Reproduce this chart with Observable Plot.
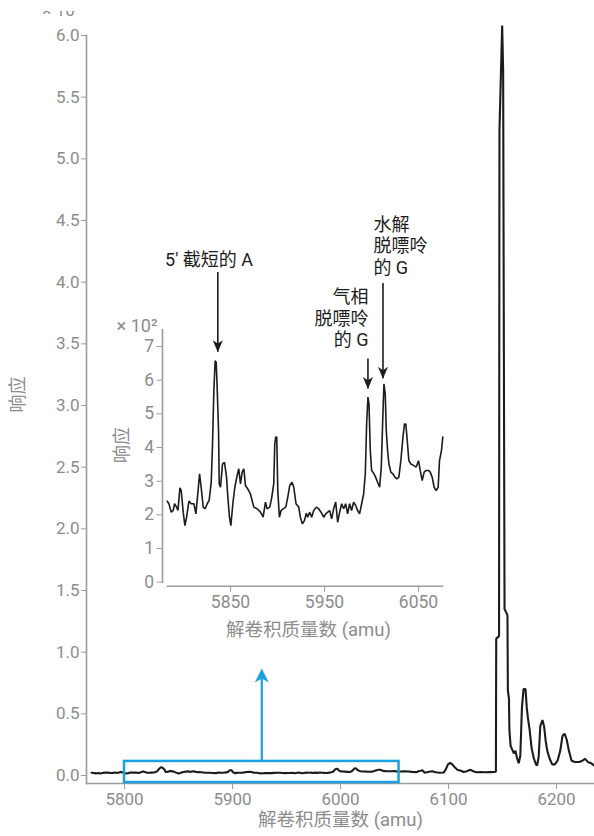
<!DOCTYPE html>
<html>
<head>
<meta charset="utf-8">
<script src="https://cdn.jsdelivr.net/npm/d3@7"></script>
<script src="https://cdn.jsdelivr.net/npm/@observablehq/plot@0.6"></script>
<style>
  html, body { margin: 0; padding: 0; background: #fff; }
  #chart { position: relative; width: 594px; height: 836px; overflow: hidden;
           font-family: Roboto, "Noto Sans CJK SC", sans-serif; }
  #chart svg { display: block; }
  #inset { position: absolute; left: 100px; top: 200px; }
  #exp4 { position: absolute; left: 0; top: 11px; width: 86px; height: 6px; overflow: hidden; }
  #exp4 span { position: absolute; right: 5px; top: -9.5px; font-size: 17px; line-height: 17px;
               color: #8c8c8c; white-space: nowrap; }
</style>
</head>
<body>
<div id="chart">
  <div id="main"></div>
  <div id="inset"></div>
  <div id="exp4"><span>× 10⁴</span></div>
</div>
<script>
// ---- deconvoluted spectrum: region left of the zoomed window (response ×10⁴)
const leadMass = [5769.5, 5771.5, 5773.5, 5775.5, 5777.5, 5780];
const leadResp = [0.022, 0.020, 0.017, 0.021, 0.016, 0.021];

// ---- zoomed window 5783–6076 amu (response ×10²)
const zoomMass = [
  5782.7, 5784.5, 5787.0, 5789.1, 5790.5, 5792.7, 5794.1, 5796.2, 5797.6, 5799.7,
  5801.5, 5803.3, 5805.8, 5808.2, 5811.1, 5813.2, 5815.7, 5817.1, 5818.8, 5821.0,
  5823.1, 5825.2, 5827.3, 5829.5, 5830.9, 5832.3, 5833.7, 5834.8, 5835.8, 5837.3,
  5838.0, 5839.4, 5841.5, 5843.6, 5845.8, 5847.2, 5848.9, 5850.4, 5852.5, 5854.6,
  5857.1, 5858.8, 5860.6, 5862.4, 5864.2, 5865.9, 5868.4, 5871.2, 5874.8, 5878.3,
  5881.9, 5884.7, 5887.2, 5888.9, 5891.8, 5893.9, 5896.0, 5897.1, 5898.1, 5899.2,
  5900.3, 5902.0, 5903.8, 5905.9, 5908.8, 5910.9, 5913.0, 5915.5, 5917.3, 5919.7,
  5922.6, 5924.3, 5926.5, 5928.6, 5930.7, 5932.1, 5934.2, 5936.4, 5938.5, 5941.3,
  5943.8, 5946.3, 5949.1, 5951.2, 5953.4, 5955.5, 5957.6, 5959.7, 5961.9, 5964.0,
  5966.1, 5968.2, 5970.4, 5972.5, 5974.6, 5976.7, 5978.8, 5981.0, 5983.1, 5985.2,
  5987.3, 5989.5, 5991.6, 5993.4, 5994.8, 5996.2, 5997.3, 5998.7, 6000.1, 6002.2,
  6004.3, 6006.5, 6008.6, 6010.4, 6011.8, 6013.2, 6014.6, 6015.7, 6017.1, 6018.5,
  6020.6, 6022.7, 6024.9, 6027.0, 6029.1, 6031.2, 6033.4, 6035.1, 6036.5, 6038.0,
  6039.7, 6041.9, 6044.7, 6047.5, 6050.0, 6051.8, 6053.9, 6056.0, 6058.1, 6060.6,
  6062.4, 6064.5, 6066.6, 6068.8, 6070.9, 6072.3, 6074.4, 6075.8
];
const zoomResp = [
  2.41, 2.33, 2.08, 2.13, 2.33, 2.23, 2.13, 2.80, 2.72, 2.08,
  1.68, 1.93, 2.41, 2.33, 2.33, 2.03, 2.77, 3.22, 2.82, 2.23,
  2.18, 2.33, 2.43, 2.97, 4.11, 5.69, 6.58, 6.53, 5.79, 4.50,
  2.92, 2.82, 3.51, 3.56, 3.12, 2.52, 1.93, 1.68, 2.33, 2.82,
  3.17, 3.37, 2.92, 3.27, 3.37, 2.87, 2.77, 2.62, 2.23, 2.18,
  2.08, 1.93, 2.38, 2.18, 2.23, 2.52, 2.92, 4.11, 4.31, 4.31,
  2.72, 1.93, 2.13, 2.18, 2.23, 2.52, 2.87, 2.97, 2.82, 2.33,
  2.23, 1.93, 1.73, 1.83, 2.05, 1.93, 2.08, 1.93, 2.13, 2.23,
  2.18, 2.08, 1.93, 2.03, 2.08, 2.13, 1.88, 2.18, 2.38, 1.78,
  2.08, 2.33, 2.18, 2.33, 2.03, 2.33, 2.13, 2.38, 2.28, 2.13,
  2.03, 2.33, 2.62, 3.22, 4.70, 5.50, 5.30, 3.91, 3.32, 3.24,
  3.12, 2.97, 2.82, 3.42, 4.70, 5.89, 5.59, 4.50, 3.91, 3.51,
  3.27, 3.22, 3.12, 3.07, 3.12, 3.61, 4.31, 4.70, 4.70, 4.21,
  3.61, 3.51, 3.47, 3.42, 3.61, 3.32, 3.02, 3.27, 3.32, 3.32,
  3.27, 3.12, 2.82, 2.72, 2.82, 3.61, 3.91, 4.31
];

// ---- region right of the zoomed window, including the main 6148 amu peak (response ×10⁴)
const tailMass = [
  6078, 6082, 6085, 6088, 6092, 6095.5, 6097.5, 6099.5, 6101.5, 6103.5,
  6106, 6108.5, 6111, 6114, 6117, 6120, 6123, 6126, 6130, 6134,
  6138, 6142, 6143.9, 6144.2, 6146.8, 6147.2, 6149.7, 6150.6, 6151.9, 6154.6,
  6155.0, 6156.0, 6156.4, 6157.5, 6159, 6160.5, 6162, 6163.5, 6165, 6166.5,
  6168, 6169.5, 6171.3, 6172.5, 6173.5, 6175, 6177, 6179, 6181, 6182,
  6183.5, 6185, 6187, 6188.5, 6190, 6191.5, 6193.5, 6196, 6198.5, 6201,
  6203.5, 6205.5, 6207.5, 6209.5, 6211.5, 6214, 6217, 6221, 6224, 6226.5,
  6229, 6232, 6235
];
const tailResp = [
  0.022, 0.030, 0.035, 0.026, 0.022, 0.024, 0.050, 0.090, 0.103, 0.090,
  0.065, 0.045, 0.040, 0.028, 0.035, 0.046, 0.035, 0.026, 0.028, 0.026,
  0.027, 0.028, 0.030, 1.11, 1.13, 5.23, 6.08, 5.72, 1.35, 1.30,
  0.69, 0.62, 0.37, 0.24, 0.21, 0.18, 0.20, 0.14, 0.10, 0.16,
  0.55, 0.70, 0.70, 0.55, 0.47, 0.38, 0.22, 0.14, 0.09, 0.08,
  0.15, 0.40, 0.45, 0.40, 0.28, 0.20, 0.14, 0.09, 0.09, 0.12,
  0.20, 0.32, 0.34, 0.29, 0.20, 0.12, 0.11, 0.11, 0.12, 0.135,
  0.11, 0.10, 0.08
];

// ---- axis ticks
const mainXTicks = [5800, 5900, 6000, 6100, 6200];
const mainYTicks = [0, 0.5, 1, 1.5, 2, 2.5, 3, 3.5, 4, 4.5, 5, 5.5, 6];
const zoomXTicks = [5850, 5950, 6050];
const zoomYTicks = [0, 1, 2, 3, 4, 5, 6, 7];

// ---- zoomed window marker on the full spectrum
const windowMass = [5800, 6054.2];
const windowResp = [-0.057, 0.114];
const windowPointer = 0.868;

// ---- peak annotations inside the zoomed view (mass, arrow start/end in ×10²)
const peakLabels = ["5' 截短的 A", "气相\n脱嘌呤\n的 G", "水解\n脱嘌呤\n的 G"];
const peakLabelMass = [5827.2, 5996.9, 6002.0];
const peakLabelResp = [9.55, 7.86, 10.0];
const peakArrowMass = [5836.5, 5996.2, 6012.2];
const peakArrowFrom = [9.2, 6.63, 8.87];
const peakArrowTo = [6.83, 5.74, 6.04];

const xLabel = "解卷积质量数 (amu)";
const yLabel = "响应";

const FONT = 'Roboto, "Noto Sans CJK SC", sans-serif';
const GREY = "#8c8c8c";
const AXIS = "#9c9c9c";
const INK = "#1c1c1c";
const BLUE = "#1aa1e0";

// notched arrowhead symbol; tip at the anchor point, dir 1 = pointing down, -1 = up
function arrowHead(dir, spread) {
  return {
    draw(ctx, size) {
      const r = Math.sqrt(size / Math.PI);
      const len = 2 * r, half = spread * len;
      ctx.moveTo(0, 0);
      ctx.lineTo(-half, -dir * len);
      ctx.lineTo(0, -dir * len * 0.72);
      ctx.lineTo(half, -dir * len);
      ctx.closePath();
    }
  };
}

const spectrum = [
  ...leadMass.map((m, i) => ({mass: m, resp: leadResp[i]})),
  ...zoomMass.map((m, i) => ({mass: m, resp: zoomResp[i] / 100})),
  ...tailMass.map((m, i) => ({mass: m, resp: tailResp[i]}))
];
const zoomed = zoomMass.map((m, i) => ({mass: m, resp: zoomResp[i]}));
const arrows = peakArrowMass.map((m, i) => ({mass: m, from: peakArrowFrom[i], to: peakArrowTo[i]}));

const mainPlot = Plot.plot({
  width: 594,
  height: 836,
  marginLeft: 86,
  marginRight: 0,
  marginTop: 35,
  marginBottom: 53,
  style: {fontFamily: FONT, color: GREY, background: "transparent", overflow: "visible"},
  x: {domain: [5764.8, 6235.2]},
  y: {domain: [0, 6], insetBottom: 8},
  marks: [
    Plot.frame({anchor: "left", stroke: AXIS, strokeWidth: 1.6}),
    Plot.frame({anchor: "bottom", stroke: AXIS, strokeWidth: 1.6}),
    Plot.axisY({ticks: mainYTicks, tickFormat: d3.format(".1f"), tickSize: 5, tickPadding: 2,
                label: null, fontSize: 17, stroke: AXIS, fill: GREY}),
    Plot.axisX({ticks: mainXTicks, tickFormat: "d", tickSize: 6, tickPadding: 3,
                label: null, fontSize: 17, stroke: AXIS, fill: GREY}),
    Plot.text([xLabel], {frameAnchor: "bottom", dy: 42, fontSize: 18.5, fill: GREY}),
    Plot.text([yLabel], {frameAnchor: "left", dx: -68, dy: 3, rotate: -90, fontSize: 18, fill: GREY}),
    Plot.line(spectrum, {x: "mass", y: "resp", stroke: INK, strokeWidth: 2.1, strokeLinejoin: "miter"}),
    Plot.rect([{}], {x1: windowMass[0], x2: windowMass[1], y1: windowResp[0], y2: windowResp[1],
                     fill: "none", stroke: BLUE, strokeWidth: 2.5}),
    Plot.ruleX([{}], {x: (windowMass[0] + windowMass[1]) / 2, y1: windowResp[1], y2: windowPointer - 0.05,
                      stroke: BLUE, strokeWidth: 2.2}),
    Plot.dot([{}], {x: (windowMass[0] + windowMass[1]) / 2, y: windowPointer, r: 7,
                    symbol: arrowHead(-1, 0.5), fill: BLUE, stroke: "none"})
  ]
});
document.getElementById("main").append(mainPlot);

const insetPlot = Plot.plot({
  width: 360,
  height: 450,
  marginLeft: 62,
  marginRight: 18,
  marginTop: 129.2,
  marginBottom: 64.3,
  style: {fontFamily: FONT, color: GREY, background: "transparent", overflow: "visible"},
  x: {domain: [5783, 6075.5], insetLeft: 5},
  y: {domain: [0, 7.5], insetBottom: 4},
  marks: [
    Plot.frame({anchor: "left", insetBottom: 4, stroke: AXIS, strokeWidth: 1.6}),
    Plot.frame({anchor: "bottom", insetLeft: 5, stroke: AXIS, strokeWidth: 1.6}),
    Plot.axisY({ticks: zoomYTicks, tickFormat: "d", tickSize: 5.5, tickPadding: 3,
                label: null, fontSize: 17.5, stroke: AXIS, fill: GREY}),
    Plot.axisX({ticks: zoomXTicks, tickFormat: "d", tickSize: 6, tickPadding: 3,
                label: null, fontSize: 17.5, stroke: AXIS, fill: GREY}),
    Plot.text(["× 10²"], {frameAnchor: "top-left", textAnchor: "end", dx: -5, dy: -10, fontSize: 18, fill: GREY}),
    Plot.text([xLabel], {frameAnchor: "bottom", dx: 6, dy: 50, fontSize: 18.5, fill: GREY}),
    Plot.text([yLabel], {frameAnchor: "left", dx: -40, dy: 5, rotate: -90, fontSize: 18, fill: GREY}),
    Plot.line(zoomed, {x: "mass", y: "resp", stroke: INK, strokeWidth: 1.6, strokeLinejoin: "miter"}),
    Plot.ruleX(arrows, {x: "mass", y1: "from", y2: "to", stroke: INK, strokeWidth: 1.6}),
    Plot.dot(arrows, {x: "mass", y: "to", r: 6, symbol: arrowHead(1, 0.42), fill: INK, stroke: "none"}),
    Plot.text([peakLabels[0]], {x: peakLabelMass[0], y: peakLabelResp[0], textAnchor: "middle",
                                fontSize: 18, fill: INK}),
    Plot.text([peakLabels[1]], {x: peakLabelMass[1], y: peakLabelResp[1], textAnchor: "end",
                                fontSize: 18, lineHeight: 1.2, fill: INK}),
    Plot.text([peakLabels[2]], {x: peakLabelMass[2], y: peakLabelResp[2], textAnchor: "start",
                                fontSize: 18, lineHeight: 1.2, fill: INK})
  ]
});
document.getElementById("inset").append(insetPlot);
</script>
</body>
</html>
